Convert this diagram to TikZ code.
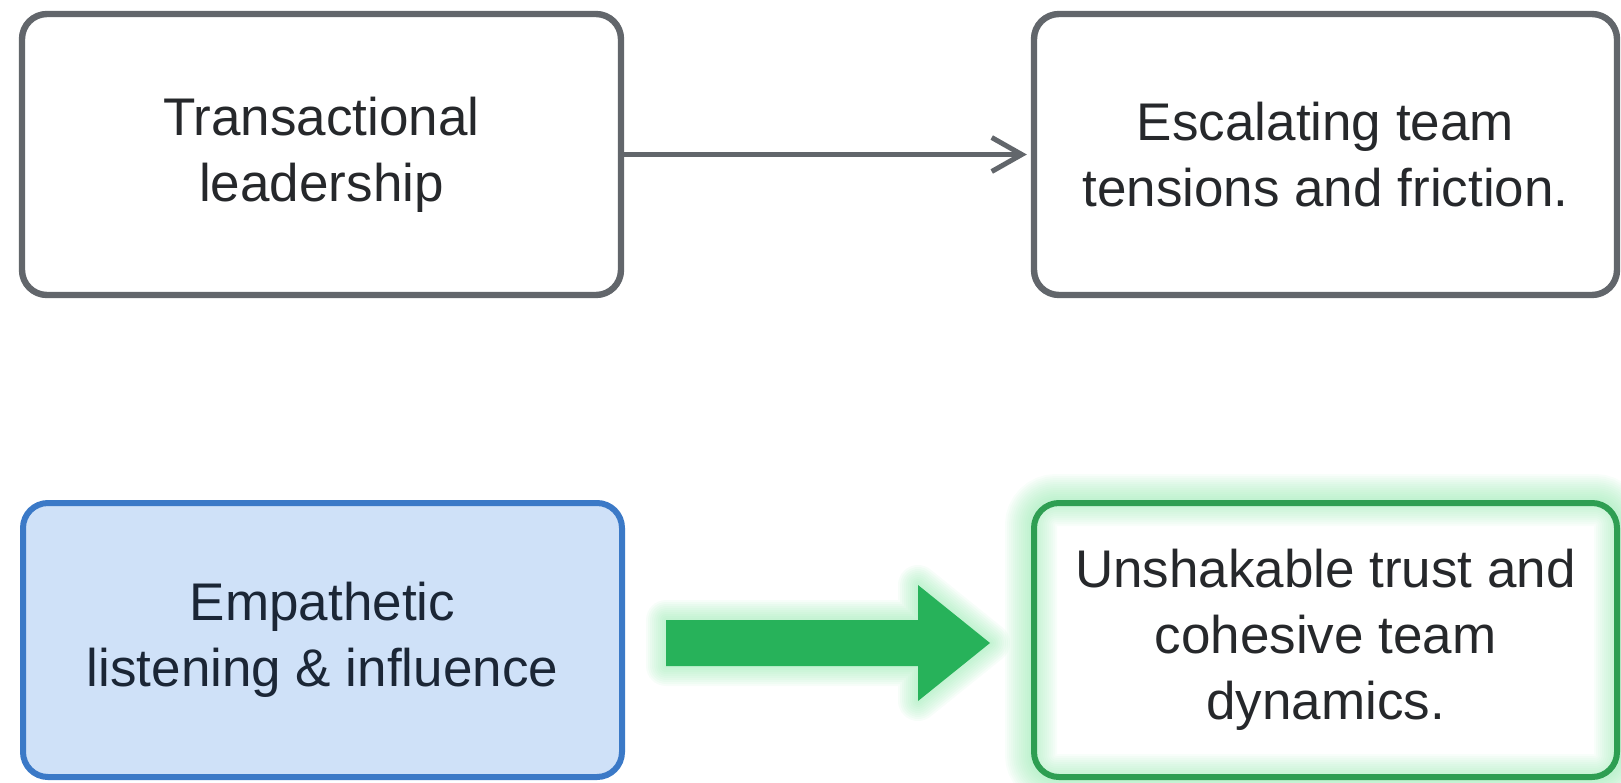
\documentclass[tikz,border=0pt]{standalone}
\usepackage{fontspec}
\setmainfont{Liberation Sans}
\usetikzlibrary{arrows.meta,calc,backgrounds}

\definecolor{boxgray}{HTML}{62666B}
\definecolor{textgray}{HTML}{26282B}
\definecolor{blueline}{HTML}{3B79C7}
\definecolor{bluefill}{HTML}{CFE1F8}
\definecolor{bluetext}{HTML}{1B2636}
\definecolor{greenline}{HTML}{2E9E52}
\definecolor{greenfill}{HTML}{27B25A}
\definecolor{greenglow}{HTML}{8EE8AA}

\tikzset{
	card/.style={draw, rounded corners=12.5pt, line width=3.2pt, minimum height=140.5pt,
		align=center, inner sep=0pt, font=\fontsize{26.5}{33}\selectfont},
	oldcard/.style={card, draw=boxgray, text=textgray},
	newcard/.style={card, draw=blueline, fill=bluefill, text=bluetext, line width=3pt},
	goodcard/.style={card, draw=greenline, text=textgray, line width=3pt},
	thin arrow/.style={draw=boxgray, line width=2.5pt, -{Straight Barb[length=15pt,width=17pt]}}
}

\begin{document}
\begin{tikzpicture}[x=0.5pt,y=-0.5pt]
	\useasboundingbox (0,0) rectangle (1621,782);
	
	\node[oldcard, minimum width=299.5pt] (lead) at (321.5,154.5) {Transactional\\leadership};
	\node[oldcard, minimum width=291.5pt] (tense) at (1325.5,154.5) {Escalating team\\tensions and friction.};
	\node[newcard, minimum width=299.5pt, minimum height=137pt] (listen) at (322.5,640) {Empathetic\\listening \& influence};
	\node[goodcard, minimum width=291.5pt, minimum height=137pt] (trust) at (1325.5,640) {Unshakable trust and\\cohesive team\\dynamics.};
	
	\draw[thin arrow, shorten >=2pt] (lead.east) -- (tense.west);
	
	% block arrow between the lower cards
	\coordinate (tail) at ($(listen.east)+(41,3)$);
	\coordinate (tip) at ($(trust.west)+(-41,3)$);
	
	\begin{scope}[on background layer]
		\foreach \w in {2,4,...,26}
			\draw[greenglow, draw opacity=0.06, line width=\w pt, rounded corners=12.5pt] (trust.south west) rectangle (trust.north east);
		\foreach \w in {2,4,...,20}
			\draw[greenglow, draw opacity=0.07, line width=\w pt, line join=round]
				($(tail)+(0,-23)$) -- ($(tip)+(-72,-23)$) -- ($(tip)+(-72,-58)$) -- (tip)
				-- ($(tip)+(-72,58)$) -- ($(tip)+(-72,23)$) -- ($(tail)+(0,23)$) -- cycle;
	\end{scope}
	
	\fill[greenfill] ($(tail)+(0,-23)$) -- ($(tip)+(-72,-23)$) -- ($(tip)+(-72,-58)$) -- (tip)
		-- ($(tip)+(-72,58)$) -- ($(tip)+(-72,23)$) -- ($(tail)+(0,23)$) -- cycle;
	
\end{tikzpicture}
\end{document}
